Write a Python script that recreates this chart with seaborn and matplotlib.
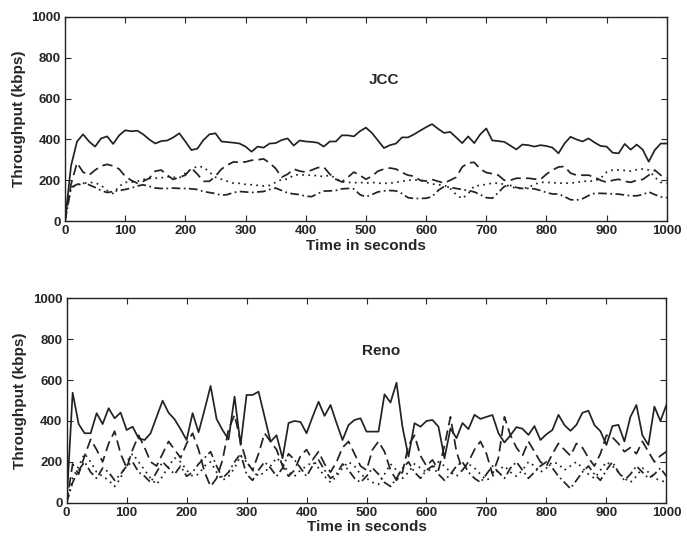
import numpy as np
import pandas as pd
import matplotlib
matplotlib.use("Agg")
import matplotlib.pyplot as plt
import seaborn as sns

time_s = list(range(0, 1001, 10))

jcc_solid = [0, 270, 390, 425, 390, 365, 405, 415, 378, 420, 445, 440, 443, 425, 400, 380, 392, 395, 410, 430,
             390, 348, 355, 397, 425, 430, 390, 387, 384, 380, 365, 340, 365, 360, 380, 382, 397, 405, 370, 395,
             390, 388, 384, 365, 390, 390, 420, 420, 415, 440, 458, 432, 395, 358, 372, 380, 410, 410, 425, 443,
             460, 475, 452, 432, 437, 410, 382, 415, 382, 425, 454, 395, 392, 388, 370, 351, 375, 372, 365, 372,
             368, 360, 332, 380, 413, 400, 390, 405, 385, 368, 365, 335, 332, 378, 350, 375, 350, 291, 348, 380, 380]
jcc_dashed = [0, 180, 285, 240, 225, 250, 270, 278, 270, 255, 220, 200, 186, 195, 210, 245, 250, 225, 204, 215,
              225, 260, 230, 195, 195, 220, 255, 275, 290, 288, 290, 298, 300, 305, 285, 258, 215, 230, 255, 245,
              240, 250, 262, 265, 230, 205, 192, 215, 240, 225, 205, 220, 245, 255, 260, 255, 238, 225, 220, 200,
              196, 204, 195, 186, 200, 215, 265, 285, 288, 255, 238, 232, 225, 200, 200, 210, 210, 210, 206, 204,
              230, 250, 265, 268, 235, 225, 225, 225, 215, 200, 190, 200, 205, 195, 190, 200, 204, 225, 250, 225, 210]
jcc_dotted = [0, 165, 175, 185, 190, 188, 175, 150, 135, 170, 190, 190, 195, 204, 210, 210, 212, 218, 215, 212,
              235, 255, 268, 265, 240, 215, 205, 195, 186, 185, 180, 178, 175, 172, 175, 190, 204, 206, 225, 228,
              225, 225, 222, 218, 225, 210, 192, 190, 188, 190, 186, 190, 186, 185, 186, 190, 195, 200, 202, 200,
              190, 182, 178, 176, 160, 130, 110, 135, 172, 175, 180, 186, 186, 180, 170, 160, 160, 165, 180, 190,
              190, 188, 186, 186, 186, 190, 195, 196, 196, 210, 240, 250, 250, 248, 245, 252, 255, 250, 215, 190, 186]
jcc_dashdot = [0, 165, 180, 186, 178, 165, 150, 140, 145, 150, 155, 162, 172, 178, 170, 162, 160, 160, 162, 160,
               160, 158, 155, 145, 140, 135, 127, 130, 140, 145, 143, 140, 143, 145, 155, 162, 150, 138, 133, 130,
               122, 120, 135, 147, 148, 150, 158, 160, 158, 130, 119, 130, 143, 148, 150, 148, 135, 115, 111, 111,
               112, 120, 150, 170, 165, 160, 155, 150, 143, 130, 115, 112, 140, 170, 175, 165, 160, 160, 158, 150,
               140, 133, 133, 120, 105, 103, 110, 125, 136, 136, 135, 133, 132, 128, 124, 124, 130, 143, 130, 119, 115]

reno_solid = [0, 538, 385, 340, 340, 438, 385, 462, 413, 441, 356, 372, 315, 307, 340, 420, 499, 440, 408, 360,
              307, 438, 345, 455, 571, 410, 355, 310, 519, 283, 527, 527, 543, 421, 299, 330, 218, 390, 400, 395,
              340, 420, 494, 425, 478, 390, 307, 380, 405, 413, 348, 348, 348, 530, 490, 587, 370, 226, 389, 372,
              400, 405, 372, 218, 364, 316, 390, 360, 430, 410, 420, 429, 340, 295, 330, 370, 362, 332, 375, 307,
              335, 356, 430, 380, 352, 381, 440, 450, 380, 350, 283, 375, 381, 300, 420, 478, 330, 283, 470, 400, 478]
reno_dashed = [0, 190, 140, 230, 310, 260, 200, 290, 350, 240, 170, 260, 330, 270, 200, 180, 240, 300, 260, 220,
               290, 340, 260, 150, 80, 120, 210, 360, 430, 300, 200, 160, 240, 340, 300, 260, 180, 130, 160, 230,
               260, 210, 250, 190, 150, 200, 270, 300, 240, 180, 160, 260, 300, 250, 160, 110, 150, 280, 330, 230,
               180, 210, 160, 280, 420, 250, 160, 200, 260, 300, 240, 140, 220, 420, 330, 270, 230, 300, 250, 200,
               180, 240, 290, 260, 230, 290, 270, 220, 180, 240, 330, 320, 290, 250, 270, 240, 300, 250, 200, 230, 250]
reno_dotted = [0, 120, 180, 240, 200, 150, 130, 110, 80, 120, 200, 240, 200, 160, 120, 90, 130, 180, 220, 200,
               160, 130, 140, 180, 200, 150, 110, 130, 170, 230, 200, 160, 130, 150, 180, 220, 190, 150, 130, 160,
               180, 200, 170, 130, 100, 130, 170, 200, 180, 140, 120, 100, 90, 140, 190, 160, 120, 150, 190, 170,
               150, 170, 200, 180, 150, 130, 160, 190, 170, 140, 110, 130, 160, 180, 150, 130, 160, 200, 180, 150,
               170, 200, 190, 160, 180, 200, 170, 140, 120, 160, 200, 180, 150, 120, 100, 130, 170, 150, 120, 110, 100]
reno_dashdot = [0, 100, 160, 200, 150, 120, 170, 150, 110, 140, 180, 200, 150, 130, 100, 150, 200, 170, 140, 180,
                130, 150, 190, 220, 250, 180, 120, 150, 200, 240, 140, 110, 160, 200, 170, 130, 170, 240, 210, 170,
                130, 180, 210, 160, 120, 140, 190, 160, 120, 100, 130, 170, 140, 100, 80, 120, 170, 200, 150, 120,
                160, 180, 140, 110, 140, 180, 200, 150, 120, 100, 140, 180, 150, 120, 170, 200, 160, 120, 150, 180,
                200, 170, 130, 100, 70, 110, 150, 180, 140, 110, 160, 200, 150, 110, 140, 180, 150, 120, 140, 170, 130]

series_names = ["solid", "dashed", "dotted", "dashdot"]
panel_titles = ["JCC", "Reno"]
x_ticks = list(range(0, 1001, 100))
y_ticks = list(range(0, 1001, 200))


def make_df(arrs):
    frames = []
    for name, vals in zip(series_names, arrs):
        frames.append(pd.DataFrame({"t": time_s, "v": vals, "s": name}))
    return pd.concat(frames, ignore_index=True)


sns.set_style("ticks")
plt.rcParams["font.family"] = ["Liberation Sans", "DejaVu Sans"]
plt.rcParams["font.weight"] = "bold"

fig = plt.figure(figsize=(6.87, 5.46), dpi=100)
ax1 = fig.add_axes([0.0946, 0.595, 0.876, 0.374])
ax2 = fig.add_axes([0.097, 0.079, 0.873, 0.375])

dash_map = {"solid": "", "dashed": (6, 3), "dotted": (1, 2.5), "dashdot": (5, 2, 1, 2)}

for ax, arrs, title, (tx, ty) in [
    (ax1, [jcc_solid, jcc_dashed, jcc_dotted, jcc_dashdot], "JCC", (530, 690)),
    (ax2, [reno_solid, reno_dashed, reno_dotted, reno_dashdot], "Reno", (525, 740)),
]:
    df = make_df(arrs)
    sns.lineplot(data=df, x="t", y="v", style="s", dashes=dash_map, color="#222222",
                 linewidth=1.25, ax=ax, legend=False, estimator=None, sort=False)
    ax.set_xlim(0, 1000)
    ax.set_ylim(0, 1000)
    ax.set_xticks(x_ticks)
    ax.set_yticks(y_ticks)
    ax.tick_params(direction="in", top=True, right=True, length=4, labelsize=9.5, width=0.8, pad=3)
    for lab in ax.get_xticklabels() + ax.get_yticklabels():
        lab.set_fontweight("bold")
    for sp in ax.spines.values():
        sp.set_visible(True)
        sp.set_linewidth(1.0)
        sp.set_color("#222222")
    ax.set_xlabel("Time in seconds", fontsize=11, fontweight="bold", labelpad=1)
    ax.set_ylabel("Throughput (kbps)", fontsize=11, fontweight="bold", labelpad=4)
    ax.text(tx, ty, title, fontsize=11, fontweight="bold", ha="center", va="center")

fig.savefig("out.png", dpi=100)
